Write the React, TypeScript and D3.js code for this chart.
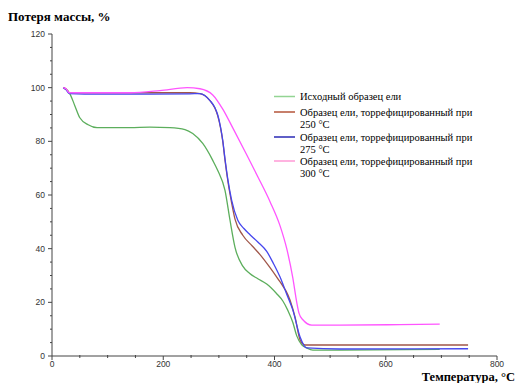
import React from "react";
import * as d3 from "d3";

// Temperature (°C) / remaining mass (%) for each sample
const rawTemp = [20, 32, 41, 50, 65, 81, 140, 176, 212, 239, 253, 271, 289, 298, 311, 320, 329, 343, 355, 370, 386, 404, 415, 424, 433, 440, 449, 458, 469, 517, 697];
const rawMass = [100, 97.8, 93.3, 88.8, 86.2, 85.1, 85.1, 85.3, 85.1, 84.4, 82.9, 79.2, 72.9, 69.1, 61.7, 50.6, 40.5, 33.5, 30.8, 28.8, 26.8, 23.2, 20.5, 17, 12.5, 7.5, 4.2, 3.0, 2.2, 2.2, 2.5];

const t250Temp = [20, 25, 31, 86, 176, 248, 266, 284, 293, 298, 303, 307, 311, 316, 323, 329, 343, 360, 374, 390, 404, 428, 437, 446, 455, 517, 748];
const t250Mass = [100, 99.6, 98.1, 98.1, 98.1, 98.1, 97.8, 95.2, 92.3, 89.5, 85, 80, 73, 65.4, 57, 51, 45, 41, 37.8, 33.5, 29.4, 20.8, 14.5, 6, 4.1, 4.1, 4.1];

const t275Temp = [20, 25, 31, 86, 176, 248, 266, 284, 293, 298, 303, 307, 311, 316, 323, 334, 345, 356, 370, 386, 398, 410, 422, 433, 446, 458, 517, 748];
const t275Mass = [100, 99.3, 97.8, 97.6, 97.6, 97.7, 97.8, 95.2, 92.5, 89.8, 85.3, 80.3, 73.5, 66, 58, 50.6, 47.5, 45.2, 42.5, 39, 34.5, 29.4, 23, 17.1, 7.1, 3.0, 2.6, 2.7];

const t300Temp = [20, 25, 31, 86, 140, 194, 243, 266, 289, 307, 325, 350, 370, 392, 410, 422, 433, 440, 444, 451, 467, 517, 625, 697];
const t300Mass = [100, 99.6, 98.1, 98.1, 98.1, 98.9, 100, 99.6, 97.3, 92, 85, 75, 66.8, 57.5, 48.5, 40, 29, 20, 16, 13.5, 11.5, 11.5, 11.7, 11.9];

const seriesNames = [
  ["Исходный образец ели"],
  ["Образец ели, торрефицированный при", "250 °C"],
  ["Образец ели, торрефицированный при", "275 °C"],
  ["Образец ели, торрефицированный при", "300 °C"],
];
const lineColors = ["#5cae5c", "#a0564a", "#4646ee", "#ff55ff"];
const legendColors = ["#93d493", "#b5553a", "#2a2ab5", "#ff9ad6"];

const yTicks = [0, 20, 40, 60, 80, 100, 120];
const xTicks = [0, 200, 400, 600, 800];

const W = 516;
const H = 383;

export default function App() {
  const x = d3.scaleLinear().domain([0, 800]).range([52, 497]);
  const y = d3.scaleLinear().domain([0, 120]).range([356, 34]);

  const series = [
    [rawTemp, rawMass],
    [t250Temp, t250Mass],
    [t275Temp, t275Mass],
    [t300Temp, t300Mass],
  ].map(([ts, ms]) => ts.map((t, i) => [t, ms[i]] as [number, number]));

  const line = d3
    .line<[number, number]>()
    .x((d) => x(d[0]))
    .y((d) => y(d[1]))
    .curve(d3.curveMonotoneX);

  const yMinor = d3.range(0, 121, 5).filter((v) => v % 20 !== 0);
  const xMinor = d3.range(0, 801, 50).filter((v) => v % 200 !== 0);

  const legendRows = [96.5, 112, 137, 161];

  return (
    <svg
      width={W}
      height={H}
      style={{ position: "absolute", left: 0, top: 0, background: "#fff" }}
    >
      <text
        x={8}
        y={21}
        fontFamily="'Liberation Serif', 'Times New Roman', serif"
        fontWeight="bold"
        fontSize={13}
        fill="#000"
      >
        Потеря массы, %
      </text>

      {/* y axis */}
      <line x1={x(0)} x2={x(0)} y1={y(120)} y2={y(0)} stroke="#444" strokeWidth={1} />
      {yTicks.map((v) => (
        <g key={"y" + v}>
          <line x1={x(0) - 4} x2={x(0)} y1={y(v)} y2={y(v)} stroke="#444" />
          <text
            x={x(0) - 7}
            y={y(v) + 3}
            textAnchor="end"
            fontFamily="'Liberation Sans', Arial, sans-serif"
            fontSize={8.5}
            fill="#333"
          >
            {v}
          </text>
        </g>
      ))}
      {yMinor.map((v) => (
        <line key={"ym" + v} x1={x(0) - 2} x2={x(0)} y1={y(v)} y2={y(v)} stroke="#444" />
      ))}

      {/* x axis */}
      <line x1={x(0)} x2={x(800)} y1={y(0)} y2={y(0)} stroke="#444" strokeWidth={1} />
      {xTicks.map((v) => (
        <g key={"x" + v}>
          <line x1={x(v)} x2={x(v)} y1={y(0)} y2={y(0) + 4} stroke="#444" />
          <text
            x={x(v)}
            y={y(0) + 11}
            textAnchor="middle"
            fontFamily="'Liberation Sans', Arial, sans-serif"
            fontSize={8.5}
            fill="#333"
          >
            {v}
          </text>
        </g>
      ))}
      {xMinor.map((v) => (
        <line key={"xm" + v} x1={x(v)} x2={x(v)} y1={y(0) - 1} y2={y(0) + 2} stroke="#444" />
      ))}

      <text
        x={W - 1}
        y={381}
        textAnchor="end"
        fontFamily="'Liberation Serif', 'Times New Roman', serif"
        fontWeight="bold"
        fontSize={12.5}
        fill="#000"
      >
        Температура, °C
      </text>

      {/* curves */}
      {series.map((s, i) => (
        <path
          key={"s" + i}
          d={line(s) || ""}
          fill="none"
          stroke={lineColors[i]}
          strokeWidth={1.3}
        />
      ))}

      {/* legend */}
      {seriesNames.map((lines, i) => (
        <g key={"l" + i}>
          <line
            x1={274}
            x2={295}
            y1={legendRows[i]}
            y2={legendRows[i]}
            stroke={legendColors[i]}
            strokeWidth={1.5}
          />
          <text
            x={300}
            y={legendRows[i] + 3.5}
            fontFamily="'Liberation Serif', 'Times New Roman', serif"
            fontSize={10.5}
            fill="#000"
          >
            {lines.map((t, j) => (
              <tspan key={j} x={300} dy={j === 0 ? 0 : 12}>
                {t}
              </tspan>
            ))}
          </text>
        </g>
      ))}
    </svg>
  );
}
